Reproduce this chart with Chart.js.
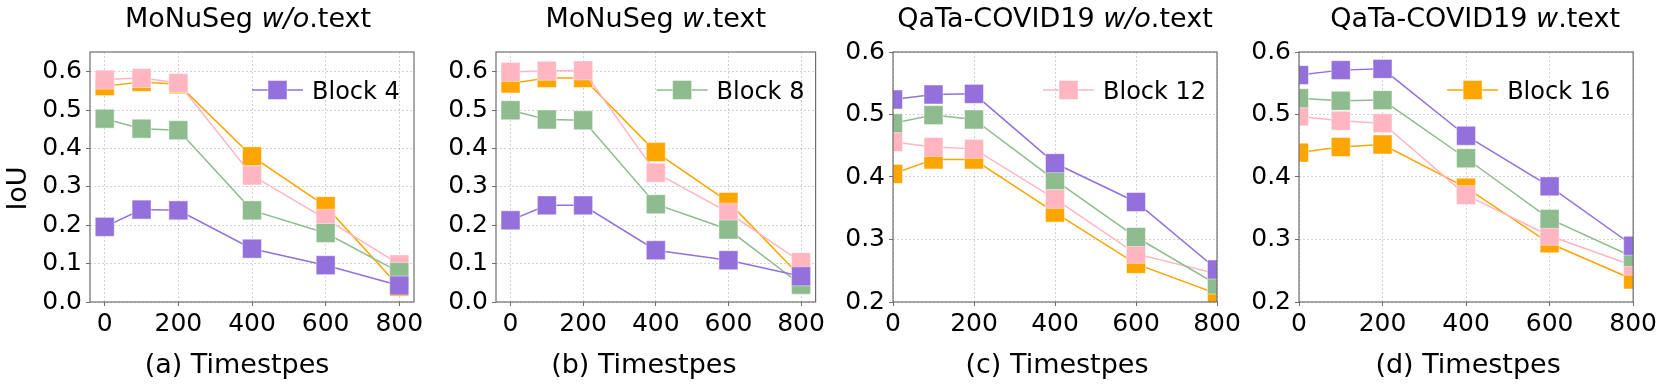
<!DOCTYPE html>
<html><head><meta charset="utf-8">
<script src="https://cdn.jsdelivr.net/npm/chart.js@4/dist/chart.umd.min.js"></script>
<style>
html,body{margin:0;padding:0;background:#fff;width:1660px;height:385px;overflow:hidden}
.panel{position:absolute;top:0;height:385px}
canvas{display:block}
</style></head><body>
<div class="panel" style="left:0px;width:440px"><canvas id="c0" width="440" height="385"></canvas></div>
<div class="panel" style="left:440px;width:390px"><canvas id="c1" width="390" height="385"></canvas></div>
<div class="panel" style="left:830px;width:416px"><canvas id="c2" width="416" height="385"></canvas></div>
<div class="panel" style="left:1246px;width:414px"><canvas id="c3" width="414" height="385"></canvas></div>
<script>
// ---------------- data ----------------
const timesteps = [0, 100, 200, 400, 600, 800];
const xTickValues = [0, 200, 400, 600, 800];
const yTicksMoNuSeg = [0.0, 0.1, 0.2, 0.3, 0.4, 0.5, 0.6];
const yTicksQaTa = [0.2, 0.3, 0.4, 0.5, 0.6];
const blockNames = ['Block 4', 'Block 8', 'Block 12', 'Block 16'];

// (a) MoNuSeg w/o.text
const monuWoBlock4  = [0.196, 0.241, 0.239, 0.139, 0.096, 0.043];
const monuWoBlock8  = [0.478, 0.452, 0.448, 0.239, 0.180, 0.078];
const monuWoBlock12 = [0.580, 0.584, 0.571, 0.330, 0.217, 0.098];
const monuWoBlock16 = [0.563, 0.574, 0.568, 0.380, 0.250, 0.040];
// (b) MoNuSeg w.text
const monuWBlock4  = [0.213, 0.252, 0.252, 0.135, 0.109, 0.067];
const monuWBlock8  = [0.500, 0.476, 0.474, 0.255, 0.189, 0.045];
const monuWBlock12 = [0.600, 0.603, 0.604, 0.337, 0.233, 0.104];
const monuWBlock16 = [0.570, 0.584, 0.584, 0.391, 0.261, 0.065];
// (c) QaTa-COVID19 w/o.text
const qataWoBlock4  = [0.524, 0.532, 0.533, 0.422, 0.360, 0.252];
const qataWoBlock8  = [0.486, 0.499, 0.492, 0.395, 0.304, 0.228];
const qataWoBlock12 = [0.456, 0.448, 0.445, 0.365, 0.277, 0.245];
const qataWoBlock16 = [0.405, 0.428, 0.428, 0.343, 0.261, 0.213];
// (d) QaTa-COVID19 w.text
const qataWBlock4  = [0.563, 0.571, 0.573, 0.466, 0.385, 0.290];
const qataWBlock8  = [0.526, 0.522, 0.523, 0.430, 0.333, 0.272];
const qataWBlock12 = [0.497, 0.490, 0.486, 0.371, 0.306, 0.258];
const qataWBlock16 = [0.439, 0.448, 0.452, 0.383, 0.294, 0.236];

// ---------------- style / layout ----------------
const blockColors = ['#9370DB', '#8FBC8F', '#FFB6C1', '#FFA500'];
const FONT = '"DejaVu Sans", "Liberation Sans", sans-serif';
Chart.defaults.font.family = FONT;
Chart.defaults.color = '#000';

const panels = [
  { id: 'c0', regionLeft: 0, width: 440, chartLeft: 90, chartRight: 414,
    xRange: [-40, 840], yRange: [0, 0.652], yTicks: yTicksMoNuSeg,
    series: [monuWoBlock4, monuWoBlock8, monuWoBlock12, monuWoBlock16],
    title: [['MoNuSeg ', false], ['w/o', true], ['.text', false]], titleDx: -4,
    xlabel: '(a) Timestpes', xlabelDx: -15, legendIndex: 0, legendOffset: 162, ylabel: 'IoU' },
  { id: 'c1', regionLeft: 440, width: 390, chartLeft: 496, chartRight: 819,
    xRange: [-40, 840], yRange: [0, 0.652], yTicks: yTicksMoNuSeg,
    series: [monuWBlock4, monuWBlock8, monuWBlock12, monuWBlock16],
    title: [['MoNuSeg ', false], ['w', true], ['.text', false]], titleDx: 0,
    xlabel: '(b) Timestpes', xlabelDx: -12, legendIndex: 1, legendOffset: 159 },
  { id: 'c2', regionLeft: 830, width: 416, chartLeft: 893, chartRight: 1217,
    xRange: [0, 800], yRange: [0.2, 0.6], yTicks: yTicksQaTa,
    series: [qataWoBlock4, qataWoBlock8, qataWoBlock12, qataWoBlock16],
    title: [['QaTa-COVID19 ', false], ['w/o', true], ['.text', false]], titleDx: 0,
    xlabel: '(c) Timestpes', xlabelDx: 2, legendIndex: 2, legendOffset: 174 },
  { id: 'c3', regionLeft: 1246, width: 414, chartLeft: 1299, chartRight: 1634,
    xRange: [0, 800], yRange: [0.2, 0.6], yTicks: yTicksQaTa,
    series: [qataWBlock4, qataWBlock8, qataWBlock12, qataWBlock16],
    title: [['QaTa-COVID19 ', false], ['w', true], ['.text', false]], titleDx: 9,
    xlabel: '(d) Timestpes', xlabelDx: 2, legendIndex: 3, legendOffset: 186 }
];

const CHART_TOP = 52, CHART_BOTTOM = 302, H = 385;

const panelDecor = {
  id: 'panelDecor',
  afterDatasetsDraw(chart, args, o) {
    const ctx = chart.ctx, a = chart.chartArea;
    ctx.save();
    // axes frame
    ctx.strokeStyle = '#6e6e6e';
    ctx.lineWidth = 1.2;
    ctx.strokeRect(a.left, a.top, a.right - a.left, a.bottom - a.top);
    // legend (single entry, inside plot, upper right)
    const ds = chart.data.datasets[o.legendIndex];
    const ly = a.top + 38;
    const lx = a.right - o.legendOffset;
    ctx.strokeStyle = ds.borderColor;
    ctx.lineWidth = 1.5;
    ctx.beginPath(); ctx.moveTo(lx, ly); ctx.lineTo(lx + 51, ly); ctx.stroke();
    ctx.fillStyle = ds.pointBackgroundColor;
    ctx.fillRect(lx + 25.5 - 9.5, ly - 9.5, 19, 19);
    ctx.strokeStyle = 'rgba(255,255,255,0.45)'; ctx.lineWidth = 1;
    ctx.strokeRect(lx + 25.5 - 9.5, ly - 9.5, 19, 19);
    ctx.fillStyle = '#000';
    ctx.font = '24px ' + FONT;
    ctx.textAlign = 'left'; ctx.textBaseline = 'alphabetic';
    ctx.fillText(ds.label, lx + 60, ly + 9);
    // title with italic segment
    const cx = (a.left + a.right) / 2;
    let total = 0;
    const fonts = o.title.map(([t, it]) => (it ? 'italic ' : '') + '27px ' + FONT);
    o.title.forEach(([t], i) => { ctx.font = fonts[i]; total += ctx.measureText(t).width; });
    let x = cx + o.titleDx - total / 2;
    o.title.forEach(([t], i) => { ctx.font = fonts[i]; ctx.fillText(t, x, 27); x += ctx.measureText(t).width; });
    // x label
    ctx.font = '27px ' + FONT;
    ctx.textAlign = 'center';
    ctx.fillText(o.xlabel, cx + o.xlabelDx, 373);
    // y label
    if (o.ylabel) {
      ctx.translate(19 - 0, 188.5);
      ctx.rotate(-Math.PI / 2);
      ctx.textBaseline = 'middle';
      ctx.fillText(o.ylabel, 0, 0);
    }
    ctx.restore();
  }
};

panels.forEach(p => {
  const datasets = p.series.map((vals, i) => ({
    label: blockNames[i],
    data: timesteps.map((t, j) => ({ x: t, y: vals[j] })),
    borderColor: blockColors[i],
    backgroundColor: blockColors[i],
    pointBackgroundColor: blockColors[i],
    pointBorderColor: 'rgba(255,255,255,0.45)',
    pointBorderWidth: 1,
    pointStyle: 'rect',
    pointRadius: 13.4,
    borderWidth: 1.5,
    tension: 0,
    clip: 0
  }));
  const yAxisWidth = p.chartLeft - p.regionLeft;
  new Chart(document.getElementById(p.id), {
    type: 'line',
    data: { datasets },
    options: {
      responsive: false,
      animation: false,
      events: [],
      layout: { padding: { left: 0, right: p.regionLeft + p.width - p.chartRight, top: CHART_TOP, bottom: 0 } },
      plugins: {
        legend: { display: false },
        title: { display: false },
        tooltip: { enabled: false },
        panelDecor: p
      },
      scales: {
        x: {
          type: 'linear',
          min: p.xRange[0], max: p.xRange[1],
          afterBuildTicks: s => { s.ticks = xTickValues.map(v => ({ value: v })); },
          afterFit: s => { s.height = H - CHART_BOTTOM; },
          ticks: { font: { size: 25 }, color: '#000', padding: 3, maxRotation: 0, autoSkip: false,
                   callback: v => String(v) },
          grid: { color: 'rgba(0,0,0,0.22)', lineWidth: 0.8, drawTicks: true, tickLength: 4,
                  tickColor: '#6e6e6e', tickWidth: 1, tickBorderDash: [] },
          border: { display: false, dash: [2, 2] }
        },
        y: {
          type: 'linear',
          min: p.yRange[0], max: p.yRange[1],
          afterBuildTicks: s => { s.ticks = p.yTicks.map(v => ({ value: v })); },
          afterFit: s => { s.width = yAxisWidth; },
          ticks: { font: { size: 25 }, color: '#000', padding: 4, autoSkip: false,
                   callback: v => Number(v).toFixed(1) },
          grid: { color: 'rgba(0,0,0,0.22)', lineWidth: 0.8, drawTicks: true, tickLength: 4,
                  tickColor: '#6e6e6e', tickWidth: 1, tickBorderDash: [] },
          border: { display: false, dash: [2, 2] }
        }
      }
    },
    plugins: [panelDecor]
  });
});
</script>
</body></html>
